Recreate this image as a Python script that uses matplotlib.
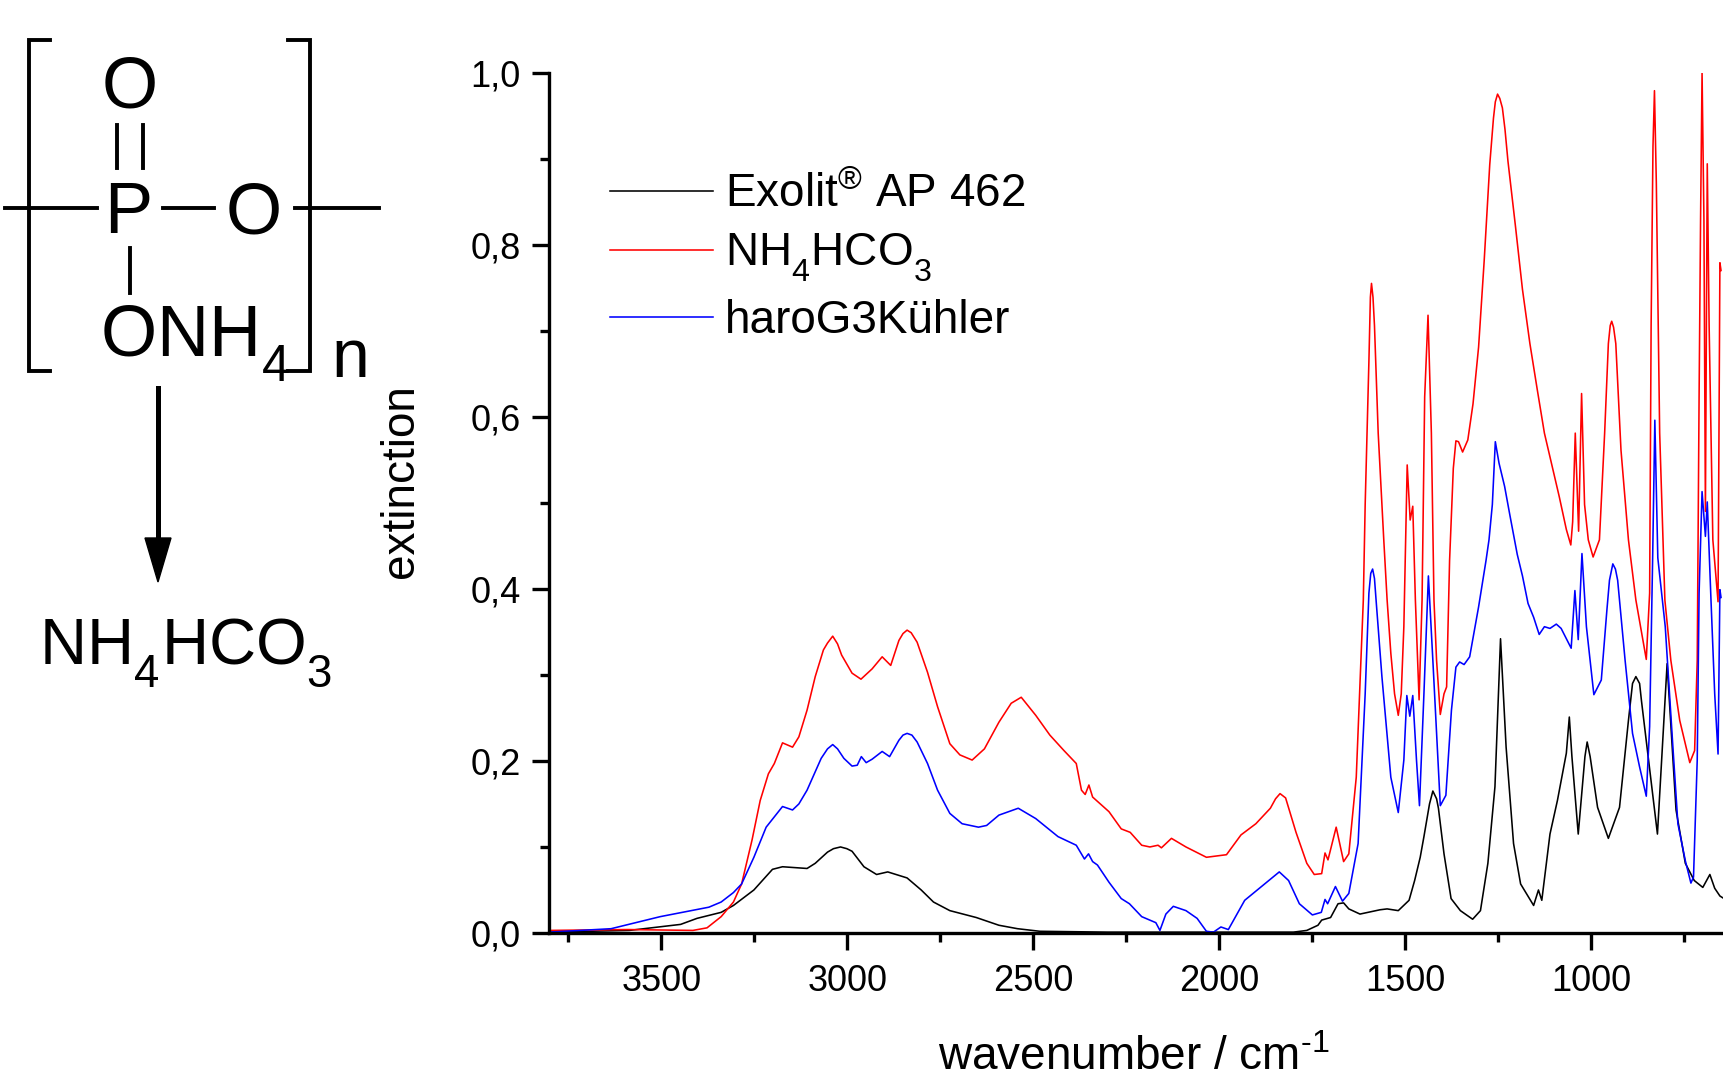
import matplotlib
matplotlib.use("Agg")
import matplotlib.pyplot as plt
import matplotlib._mathtext as mathtext_internals
from matplotlib.lines import Line2D
from matplotlib.patches import Polygon

plt.rcParams["font.family"] = ["Liberation Sans", "DejaVu Sans"]
plt.rcParams["mathtext.fontset"] = "custom"
plt.rcParams["mathtext.rm"] = "Liberation Sans"
# subscripts sit lower in the reference than the mathtext default
mathtext_internals.FontConstantsBase.sub1 = 0.65

W, H = 1724, 1079

# values, wavenumber / extinction
exolit_x = [3802, 3586, 3448, 3404, 3339, 3306, 3251, 3201, 3174, 3108, 3086, 3053, 3037, 3018, 3001, 2987, 2955, 2921,
            2891, 2839, 2801, 2768, 2724, 2653, 2592, 2542, 2482, 2300, 2000, 1800, 1764, 1734, 1724, 1700, 1680, 1665,
            1651, 1621, 1567, 1548, 1518, 1489, 1474, 1459, 1449, 1434, 1425, 1415, 1410, 1395, 1376, 1351, 1318, 1297,
            1277, 1258, 1243, 1228, 1208, 1189, 1154, 1141, 1132, 1110, 1090, 1066, 1058, 1051, 1034, 1016, 1010, 1002,
            982, 953, 923, 899, 888, 879, 869, 864, 821, 795, 771, 746, 722, 699, 680, 667, 653, 642]
exolit_y = [.001, .003, .010, .017, .024, .032, .050, .074, .077, .075, .081, .094, .098, .100, .098, .095, .077, .068,
            .071, .064, .050, .036, .026, .018, .009, .005, .002, .001, .001, .001, .003, .009, .015, .018, .034, .035,
            .028, .022, .027, .028, .026, .038, .061, .088, .112, .150, .165, .156, .145, .092, .040, .026, .016, .026,
            .081, .170, .342, .216, .104, .057, .032, .050, .038, .115, .154, .209, .251, .205, .115, .205, .222, .205,
            .146, .110, .146, .247, .290, .298, .290, .270, .115, .313, .143, .081, .061, .053, .068, .052, .043, .040]

nh4_x = [3802, 3591, 3415, 3377, 3339, 3306, 3284, 3256, 3234, 3212, 3196, 3174, 3147, 3130, 3108, 3086, 3064, 3053, 3039,
         3026, 3015, 2987, 2963, 2933, 2906, 2883, 2861, 2850, 2839, 2828, 2812, 2784, 2757, 2724, 2697, 2664, 2631, 2592,
         2559, 2532, 2493, 2455, 2417, 2384, 2370, 2360, 2350, 2340, 2296, 2263, 2239, 2208, 2186, 2164, 2155, 2128, 2089,
         2034, 1980, 1941, 1901, 1862, 1848, 1836, 1821, 1793, 1764, 1744, 1724, 1715, 1707, 1685, 1665, 1651, 1631, 1612,
         1607, 1597, 1593, 1590, 1586, 1582, 1572, 1557, 1548, 1538, 1528, 1518, 1510, 1503, 1494, 1486, 1479, 1472, 1462,
         1454, 1447, 1438, 1429, 1422, 1415, 1405, 1395, 1388, 1380, 1370, 1363, 1356, 1345, 1331, 1317, 1302, 1287, 1272,
         1262, 1257, 1251, 1245, 1238, 1231, 1223, 1203, 1184, 1164, 1144, 1125, 1105, 1085, 1066, 1054, 1049, 1042, 1033,
         1025, 1017, 1007, 994, 977, 963, 953, 948, 944, 939, 933, 926, 919, 899, 879, 851, 842, 838, 833, 829, 824, 815,
         801, 785, 761, 734, 721, 714, 709, 705, 701, 696, 692, 687, 682, 672, 658, 653, 650]
nh4_y = [.003, .004, .003, .006, .019, .036, .057, .108, .154, .185, .197, .221, .216, .228, .259, .298, .329, .337, .345,
         .336, .323, .302, .295, .307, .321, .311, .340, .348, .352, .349, .338, .303, .263, .220, .207, .201, .214, .245,
         .267, .274, .253, .230, .212, .197, .166, .161, .172, .158, .141, .121, .117, .102, .100, .102, .099, .110, .100,
         .088, .091, .114, .127, .145, .156, .162, .157, .117, .081, .068, .069, .093, .085, .123, .083, .092, .181, .387,
         .498, .664, .739, .755, .739, .706, .581, .457, .387, .325, .278, .253, .278, .356, .544, .480, .496, .387, .271,
         .387, .623, .718, .581, .387, .317, .254, .278, .286, .433, .540, .572, .571, .559, .573, .615, .681, .781, .893,
         .947, .966, .975, .970, .959, .934, .897, .822, .748, .685, .631, .581, .544, .507, .469, .451, .478, .581, .467,
         .627, .498, .457, .437, .457, .581, .685, .706, .711, .704, .685, .623, .561, .457, .387, .318, .395, .706, .914,
         .979, .872, .581, .387, .317, .247, .198, .212, .317, .623, .830, 1.0, .830, .490, .894, .706, .457, .385, .779, .770]

haro_x = [3802, 3635, 3503, 3372, 3339, 3306, 3284, 3251, 3218, 3196, 3174, 3147, 3130, 3108, 3070, 3053, 3039, 3026, 3009,
          2987, 2973, 2962, 2949, 2933, 2906, 2886, 2861, 2850, 2839, 2826, 2812, 2784, 2757, 2724, 2691, 2647, 2625, 2592,
          2540, 2493, 2433, 2384, 2362, 2351, 2340, 2327, 2296, 2263, 2241, 2208, 2170, 2159, 2143, 2123, 2089, 2059, 2034,
          2015, 1995, 1975, 1931, 1838, 1813, 1784, 1749, 1725, 1715, 1708, 1687, 1668, 1651, 1626, 1607, 1597, 1592, 1587,
          1582, 1577, 1562, 1538, 1518, 1503, 1495, 1487, 1479, 1469, 1461, 1449, 1437, 1425, 1405, 1390, 1375, 1363, 1353,
          1341, 1326, 1302, 1282, 1274, 1265, 1257, 1247, 1232, 1218, 1198, 1184, 1169, 1154, 1139, 1125, 1110, 1093, 1080,
          1053, 1043, 1034, 1024, 1012, 992, 972, 957, 950, 941, 934, 928, 908, 888, 869, 851, 842, 834, 828, 820, 800, 780,
          766, 746, 731, 724, 714, 709, 701, 692, 687, 677, 667, 658, 653, 650]
haro_y = [.001, .005, .019, .030, .036, .047, .057, .088, .123, .135, .147, .143, .150, .166, .203, .214, .219, .214, .203,
          .194, .195, .205, .198, .202, .211, .205, .224, .230, .232, .230, .222, .197, .166, .139, .127, .123, .125, .137,
          .145, .133, .112, .102, .086, .092, .083, .079, .059, .040, .034, .019, .012, .003, .022, .031, .026, .017, .002,
          .001, .007, .004, .038, .071, .061, .034, .021, .024, .039, .034, .054, .037, .046, .104, .278, .395, .418, .423,
          .412, .383, .298, .181, .140, .201, .276, .252, .276, .201, .148, .278, .415, .317, .148, .160, .259, .309, .315,
          .312, .321, .379, .433, .457, .498, .571, .546, .519, .486, .440, .415, .383, .367, .347, .356, .354, .359, .354,
          .331, .398, .341, .441, .356, .277, .294, .375, .410, .429, .423, .410, .317, .232, .193, .159, .240, .433, .596,
          .436, .356, .220, .127, .084, .058, .065, .201, .395, .513, .461, .501, .387, .278, .208, .399, .390]

x_major = [3500, 3000, 2500, 2000, 1500, 1000]
x_minor = [3750, 3250, 2750, 2250, 1750, 1250, 750]
y_major = [0.0, 0.2, 0.4, 0.6, 0.8, 1.0]
y_minor = [0.1, 0.3, 0.5, 0.7, 0.9]
y_labels = ["0,0", "0,2", "0,4", "0,6", "0,8", "1,0"]
series_names = ["Exolit$^{\\mathrm{®}}$ AP 462", "NH$_{4}$HCO$_{3}$", "haroG3Kühler"]


def fx(px):
    return px / W


def fy(py):
    return 1 - py / H


fig = plt.figure(figsize=(W / 100, H / 100), dpi=100)
ax = fig.add_axes([fx(549), fy(933), (1724 - 549) / W, (933 - 72.6) / H])

ax.plot(exolit_x, exolit_y, color="black", lw=1.15, label=series_names[0])
ax.plot(nh4_x, nh4_y, color="red", lw=1.15, label=series_names[1])
ax.plot(haro_x, haro_y, color="blue", lw=1.15, label=series_names[2])

ax.set_xlim(3802, 642)
ax.set_ylim(0, 1.0)
ax.set_xticks(x_major)
ax.set_xticks(x_minor, minor=True)
ax.set_yticks(y_major)
ax.set_yticks(y_minor, minor=True)
ax.set_yticklabels(y_labels)
ax.spines[["top", "right"]].set_visible(False)
ax.spines[["left", "bottom"]].set_linewidth(2.4)
ax.tick_params(which="major", length=12.5, width=2.4, labelsize=26, pad=8)
ax.tick_params(axis="x", which="major", pad=10)
ax.tick_params(which="minor", length=6.5, width=2.4)

fig.text(fx(1134), fy(1070), "wavenumber / cm$^{\\text{-1}}$", fontsize=33, ha="center", va="baseline")
fig.text(fx(401), fy(481), "extinction", fontsize=33, rotation=90, ha="center", va="center")

ax.legend(loc="upper left", bbox_to_anchor=(fx(610), fy(172)), bbox_transform=fig.transFigure,
          frameon=False, fontsize=33, handlelength=2.25, handletextpad=0.26, labelspacing=0.33,
          borderpad=0, borderaxespad=0)

# structure formula on the left
bonds = [
    ([50, 29, 29, 50], [40, 40, 371, 371]),
    ([288, 310, 310, 288], [40, 40, 371, 371]),
    ([117, 117], [125, 168]),
    ([143, 143], [125, 168]),
    ([5, 97], [208, 208]),
    ([163, 214], [208, 208]),
    ([295, 379], [208, 208]),
    ([130, 130], [248, 293]),
]
for xs, ys in bonds:
    fig.add_artist(Line2D([fx(v) for v in xs], [fy(v) for v in ys], color="black", lw=2.8,
                          solid_joinstyle="miter"))

fig.add_artist(Line2D([fx(158), fx(158)], [fy(388), fy(545)], color="black", lw=3.6))
fig.add_artist(Polygon([(fx(145), fy(538)), (fx(171), fy(538)), (fx(158), fy(582))], closed=True,
                       color="black", transform=fig.transFigure))

fig.text(fx(130), fy(108), "O", fontsize=52, ha="center", va="baseline")
fig.text(fx(128), fy(233), "P", fontsize=52, ha="center", va="baseline")
fig.text(fx(254), fy(233), "O", fontsize=52, ha="center", va="baseline")
fig.text(fx(100), fy(357), "ONH$_{4}$", fontsize=52, ha="left", va="baseline")
fig.text(fx(350), fy(377), "n", fontsize=49, ha="center", va="baseline")
fig.text(fx(39), fy(664), "NH$_{4}$HCO$_{3}$", fontsize=47, ha="left", va="baseline")

fig.savefig("out.png", dpi=100)
